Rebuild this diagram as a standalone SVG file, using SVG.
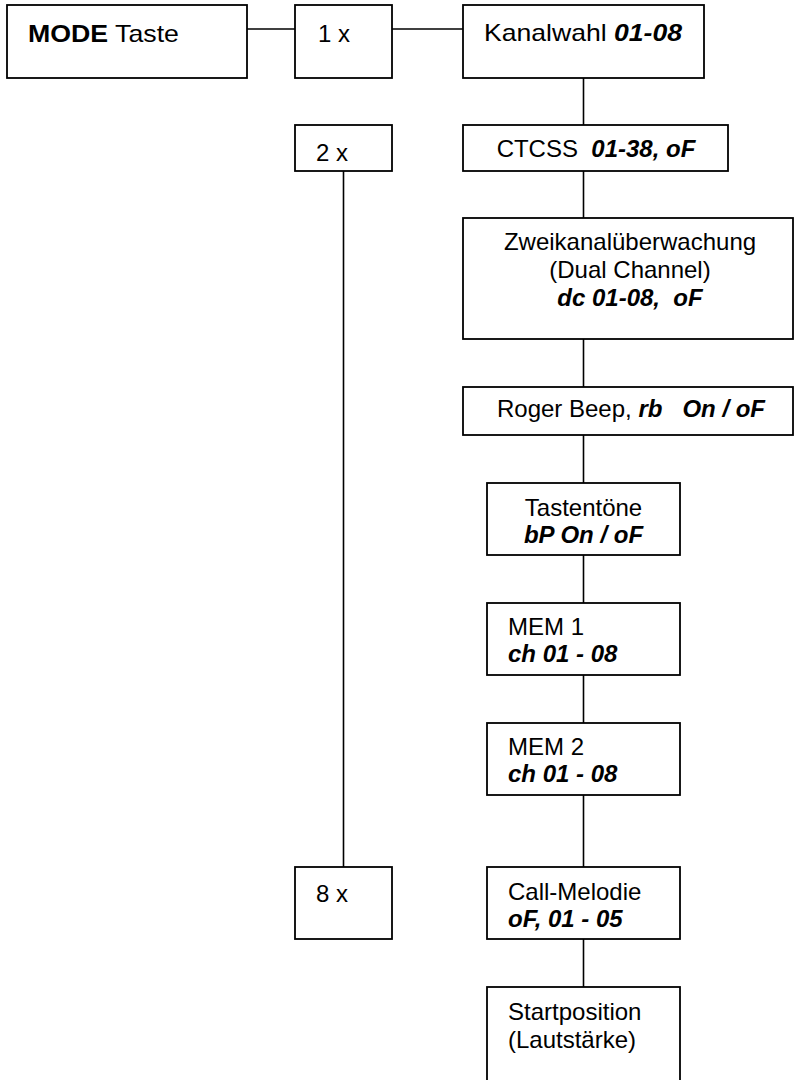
<svg xmlns="http://www.w3.org/2000/svg" width="795" height="1080" viewBox="0 0 795 1080">
<style>
rect.box{fill:#fff;stroke:#000;stroke-width:1.8}
.conn line{stroke:#000;stroke-width:1.6}
text{font-family:"Liberation Sans",Arial,sans-serif;font-size:24px;fill:#000;white-space:pre}
.c{text-anchor:middle}
.bi{font-weight:bold;font-style:italic}
.b{font-weight:bold}
</style>
<rect width="795" height="1080" fill="#fff"/>
<g id="connectors" class="conn">
<line x1="247" y1="29" x2="295" y2="29"/>
<line x1="392" y1="29" x2="463" y2="29"/>
<line x1="583.5" y1="78" x2="583.5" y2="125"/>
<line x1="583.5" y1="171" x2="583.5" y2="218"/>
<line x1="583.5" y1="339" x2="583.5" y2="387"/>
<line x1="583.5" y1="435" x2="583.5" y2="483"/>
<line x1="583.5" y1="555" x2="583.5" y2="603"/>
<line x1="583.5" y1="675" x2="583.5" y2="723"/>
<line x1="583.5" y1="795" x2="583.5" y2="867"/>
<line x1="583.5" y1="939" x2="583.5" y2="987"/>
<line x1="343.5" y1="171" x2="343.5" y2="867"/>
</g>
<g id="mode">
<rect class="box" x="7" y="5" width="240" height="73"/>
<text x="28" y="42" textLength="151" lengthAdjust="spacingAndGlyphs"><tspan class="b">MODE</tspan> Taste</text>
</g>
<g id="x1">
<rect class="box" x="295" y="5" width="97" height="73"/>
<text x="318" y="42">1 x</text>
</g>
<g id="kanalwahl">
<rect class="box" x="463" y="5" width="241" height="73"/>
<text x="484" y="41" textLength="198" lengthAdjust="spacingAndGlyphs">Kanalwahl <tspan class="bi">01-08</tspan></text>
</g>
<g id="x2">
<rect class="box" x="295" y="125" width="97" height="46"/>
<text x="316" y="161">2 x</text>
</g>
<g id="ctcss">
<rect class="box" x="463" y="125" width="265" height="46"/>
<text class="c" x="596" y="157">CTCSS  <tspan class="bi">01-38, oF</tspan></text>
</g>
<g id="zweikanal">
<rect class="box" x="463" y="218" width="330" height="121"/>
<text class="c" x="630" y="250">Zweikanalüberwachung</text>
<text class="c" x="630" y="278">(Dual Channel)</text>
<text class="c bi" x="630" y="306">dc 01-08,  oF</text>
</g>
<g id="rogerbeep">
<rect class="box" x="463" y="387" width="330" height="48"/>
<text class="c" x="631" y="417">Roger Beep, <tspan class="bi">rb   On / oF</tspan></text>
</g>
<g id="tastentoene">
<rect class="box" x="487" y="483" width="193" height="72"/>
<text class="c" x="583.5" y="516">Tastentöne</text>
<text class="c bi" x="583.5" y="543">bP On / oF</text>
</g>
<g id="mem1">
<rect class="box" x="487" y="603" width="193" height="72"/>
<text x="508" y="635">MEM 1</text>
<text class="bi" x="508" y="662">ch 01 - 08</text>
</g>
<g id="mem2">
<rect class="box" x="487" y="723" width="193" height="72"/>
<text x="508" y="755">MEM 2</text>
<text class="bi" x="508" y="782">ch 01 - 08</text>
</g>
<g id="x8">
<rect class="box" x="295" y="867" width="97" height="72"/>
<text x="316" y="902">8 x</text>
</g>
<g id="callmelodie">
<rect class="box" x="487" y="867" width="193" height="72"/>
<text x="508" y="900">Call-Melodie</text>
<text class="bi" x="508" y="927">oF, 01 - 05</text>
</g>
<g id="startposition">
<rect class="box" x="487" y="987" width="193" height="110"/>
<text x="508" y="1020">Startposition</text>
<text x="508" y="1048">(Lautstärke)</text>
</g>
</svg>
